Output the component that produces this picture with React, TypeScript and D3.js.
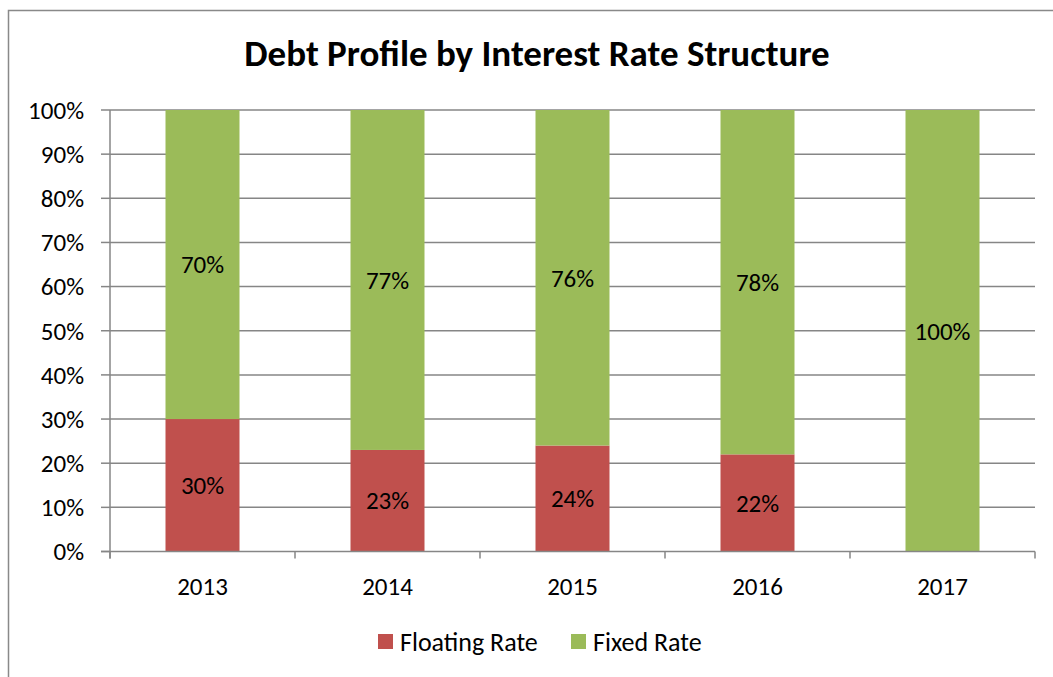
import React from "react";
import * as d3 from "d3";

const years = ["2013", "2014", "2015", "2016", "2017"];
const floating = [30, 23, 24, 22, 0];
const fixed = [70, 77, 76, 78, 100];
const seriesNames = ["Floating Rate", "Fixed Rate"];
const seriesColors = ["#C0504D", "#9BBB59"];
const yTicks = [0, 10, 20, 30, 40, 50, 60, 70, 80, 90, 100];

const W = 1053;
const H = 677;
const FONT = "Carlito, Lato, 'Liberation Sans', sans-serif";

const App = () => {
  const left = 110;
  const right = 1035;
  const top = 110;
  const bottom = 551.5;

  const x = d3.scaleBand<string>().domain(years).range([left, right]).paddingInner(0.6).paddingOuter(0.3);
  const y = d3.scaleLinear().domain([0, 100]).range([bottom, top]);

  const rows = years.map((yr, i) => ({ year: yr, floating: floating[i], fixed: fixed[i] }));
  const stack = d3.stack<any>().keys(["floating", "fixed"])(rows);

  const step = x.step();
  const catTicks = d3.range(years.length + 1).map(i => left + i * step);

  return (
    <svg width={W} height={H} style={{ position: "absolute", left: 0, top: 0, fontFamily: FONT }}>
      <rect x={0} y={0} width={W} height={H} fill="#fff" />
      <rect x={8.5} y={10.5} width={W + 20} height={H + 20} fill="none" stroke="#898989" strokeWidth={1.5} />

      <text x={537} y={66} textAnchor="middle" fontSize={37} fontWeight="bold" fill="#000">
        Debt Profile by Interest Rate Structure
      </text>

      {/* gridlines and y ticks */}
      {yTicks.map(t => (
        <g key={t}>
          {t > 0 && <line x1={left} x2={right} y1={y(t)} y2={y(t)} stroke="#868686" strokeWidth={1.5} />}
          <line x1={left - 9} x2={left} y1={y(t)} y2={y(t)} stroke="#868686" strokeWidth={1.5} />
          <text x={84} y={y(t)} dy="0.35em" textAnchor="end" fontSize={25} fill="#000">
            {t}%
          </text>
        </g>
      ))}

      {/* bars */}
      {stack.map((s, si) => (
        <g key={s.key} fill={seriesColors[si]}>
          {s.map((d, i) =>
            d[1] - d[0] > 0 ? (
              <rect key={i} x={x(years[i])} y={y(d[1])} width={x.bandwidth()} height={y(d[0]) - y(d[1])} />
            ) : null
          )}
        </g>
      ))}

      {/* bar labels */}
      {stack.map(s =>
        s.map((d, i) =>
          d[1] - d[0] > 0 ? (
            <text
              key={s.key + i}
              x={(x(years[i]) as number) + x.bandwidth() / 2}
              y={y((d[0] + d[1]) / 2)}
              dy="0.35em"
              textAnchor="middle"
              fontSize={25}
              fill="#000"
            >
              {d[1] - d[0]}%
            </text>
          ) : null
        )
      )}

      {/* axes */}
      <line x1={left} x2={left} y1={top} y2={bottom + 7} stroke="#868686" strokeWidth={1.5} />
      <line x1={left - 9} x2={right} y1={bottom} y2={bottom} stroke="#868686" strokeWidth={1.5} />
      {catTicks.map((t, i) => (
        <line key={i} x1={t} x2={t} y1={bottom} y2={bottom + 7} stroke="#868686" strokeWidth={1.5} />
      ))}
      {years.map(yr => (
        <text key={yr} x={(x(yr) as number) + x.bandwidth() / 2} y={586} dy="0.35em" textAnchor="middle" fontSize={25} fill="#000">
          {yr}
        </text>
      ))}

      {/* legend */}
      {seriesNames.map((n, i) => {
        const lx = [378, 571][i];
        return (
          <g key={n}>
            <rect x={lx} y={634} width={15} height={15} fill={seriesColors[i]} />
            <text x={lx + 22} y={642} dy="0.35em" fontSize={26} fill="#000">
              {n}
            </text>
          </g>
        );
      })}
    </svg>
  );
};

export default App;
